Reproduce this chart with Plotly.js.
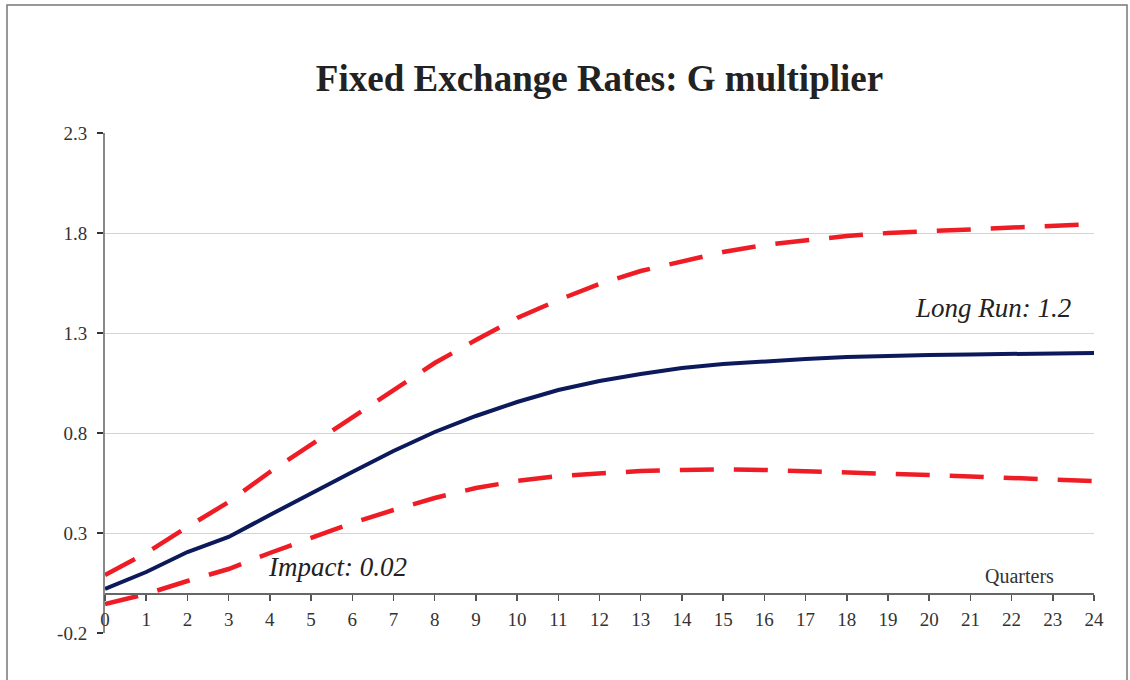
<!DOCTYPE html>
<html>
<head>
<meta charset="utf-8">
<script src="https://cdn.plot.ly/plotly-3.0.1.min.js"></script>
<style>html,body{margin:0;padding:0;background:#fff;}#chart{width:1130px;height:680px;}</style>
</head>
<body>
<div id="chart"></div>
<script>
const quarters = [0,1,2,3,4,5,6,7,8,9,10,11,12,13,14,15,16,17,18,19,20,21,22,23,24];
const multiplier = [0.02,0.105,0.205,0.28,0.39,0.50,0.605,0.71,0.805,0.885,0.955,1.015,1.06,1.095,1.125,1.145,1.16,1.17,1.18,1.187,1.19,1.193,1.195,1.197,1.2];
const upperBand = [0.09,0.20,0.33,0.455,0.605,0.74,0.88,1.015,1.15,1.265,1.375,1.465,1.545,1.61,1.66,1.705,1.74,1.765,1.785,1.80,1.81,1.82,1.83,1.837,1.845];
const lowerBand = [-0.055,-0.005,0.06,0.12,0.20,0.275,0.35,0.415,0.475,0.525,0.56,0.585,0.60,0.61,0.615,0.618,0.615,0.61,0.605,0.598,0.59,0.583,0.575,0.568,0.56];
const yTicks = [-0.2,0.3,0.8,1.3,1.8,2.3];

const serif = '"Liberation Serif", "DejaVu Serif", serif';
const red = '#ee1c25';
const navy = '#0c1a5b';

const traces = [
  {x: quarters, y: upperBand, mode: 'lines', line: {color: red, width: 4.5, dash: '34px,20px'}, hoverinfo: 'skip'},
  {x: quarters, y: lowerBand, mode: 'lines', line: {color: red, width: 4.5, dash: '34px,20px'}, hoverinfo: 'skip'},
  {x: quarters, y: multiplier, mode: 'lines', line: {color: navy, width: 4}, hoverinfo: 'skip'}
];

const layout = {
  width: 1130, height: 680,
  margin: {l: 105, r: 36, t: 133, b: 47},
  paper_bgcolor: '#fff', plot_bgcolor: '#fff',
  showlegend: false,
  font: {family: serif, color: '#333', size: 19},
  title: {text: '<b>Fixed Exchange Rates: G multiplier</b>', font: {family: serif, size: 37, color: '#222'},
          x: 0.5, xref: 'paper', xanchor: 'center', y: 1 - 78/680, yref: 'container', yanchor: 'middle'},
  xaxis: {
    range: [0, 24], tickvals: quarters, ticktext: quarters.map(String),
    anchor: 'free', position: 0.08,
    showgrid: false, zeroline: false,
    showline: true, linecolor: '#666', linewidth: 1.5,
    ticks: 'outside', ticklen: 6, tickcolor: '#555', tickwidth: 1.5,
    ticklabelstandoff: 3,
    tickfont: {family: serif, size: 19, color: '#333'}
  },
  yaxis: {
    range: [-0.2, 2.3], tickvals: yTicks, ticktext: yTicks.map(v => v.toFixed(1)),
    showgrid: true, gridcolor: '#d4d4d4', gridwidth: 1,
    zeroline: false,
    showline: true, linecolor: '#888', linewidth: 2,
    ticks: 'outside', ticklen: 6, tickcolor: '#333', tickwidth: 1.5,
    ticklabelstandoff: 6,
    tickfont: {family: serif, size: 19, color: '#333'}
  },
  annotations: [
    {x: 5.65, y: 0.13, xref: 'x', yref: 'y', text: '<i>Impact: 0.02</i>', showarrow: false,
     font: {family: serif, size: 27, color: '#222'}, xanchor: 'center', yanchor: 'middle'},
    {x: 21.55, y: 1.425, xref: 'x', yref: 'y', text: '<i>Long Run: 1.2</i>', showarrow: false,
     font: {family: serif, size: 27, color: '#222'}, xanchor: 'center', yanchor: 'middle'},
    {x: 22.2, y: 0.085, xref: 'x', yref: 'y', text: 'Quarters', showarrow: false,
     font: {family: serif, size: 20, color: '#333'}, xanchor: 'center', yanchor: 'middle'}
  ],
  shapes: [
    {type: 'rect', xref: 'paper', yref: 'paper', x0: (7-105)/989, x1: (1127-105)/989,
     y0: (633-720)/500, y1: (633-5)/500, line: {color: '#777', width: 1.5}, fillcolor: 'rgba(0,0,0,0)', layer: 'below'}
  ]
};

Plotly.newPlot('chart', traces, layout, {displayModeBar: false, staticPlot: true});
</script>
</body>
</html>
